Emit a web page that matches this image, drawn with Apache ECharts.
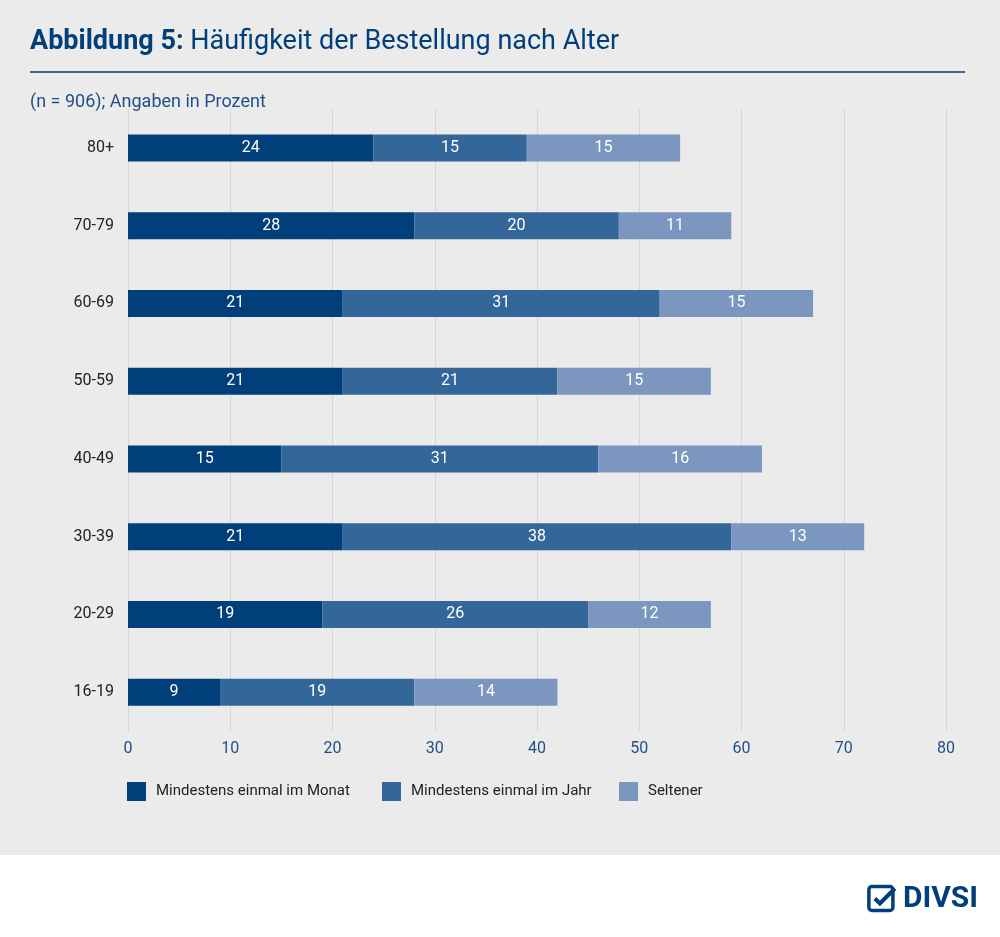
<!DOCTYPE html>
<html><head><meta charset="utf-8">
<script src="https://cdn.jsdelivr.net/npm/echarts@6/dist/echarts.min.js"></script>
<style>html,body{margin:0;padding:0;background:#fff}#c{width:1000px;height:937px}</style>
</head><body><div id="c"></div>
<script>
const categories = ['16-19','20-29','30-39','40-49','50-59','60-69','70-79','80+'];
const monat = [9,19,21,15,21,21,28,24];
const jahr = [19,26,38,31,21,31,20,15];
const seltener = [14,12,13,16,15,15,11,15];
const xTicks = [0,10,20,30,40,50,60,70,80];
const names = ['Mindestens einmal im Monat','Mindestens einmal im Jahr','Seltener'];
const colors = ['#003f7a','#336699','#7b96bf'];
const font = 'Roboto';
const chart = echarts.init(document.getElementById('c'));
const mk = (name, data, color) => ({
  name, type:'bar', stack:'a', data, barWidth:27, itemStyle:{color},
  label:{show:true, position:'inside', color:'#fff', fontSize:16, fontFamily:font}
});
const leg = (i, left) => ({left, top:777, itemWidth:19, itemHeight:19, icon:'rect', itemGap:10,
    textStyle:{fontSize:15, color:'#222', fontFamily:font, padding:[0,0,0,5]}, data:[names[i]]});
chart.setOption({
  backgroundColor:'#fff',
  textStyle:{fontFamily:font},
  graphic:[
    {type:'rect', shape:{x:0,y:0,width:1000,height:855}, style:{fill:'#ebebeb'}, z:-10},
    {type:'text', left:30, top:29, style:{text:'{b|Abbildung 5:} Häufigkeit der Bestellung nach Alter', fill:'#003f7a', font:'27px Roboto', rich:{b:{fontWeight:'bold', fontSize:27, fill:'#003f7a', fontFamily:font}}}},
    {type:'line', shape:{x1:30,y1:72,x2:965,y2:72}, style:{stroke:'#003f7a', lineWidth:1.5}},
    {type:'text', left:30, top:93, style:{text:'(n = 906); Angaben in Prozent', fill:'#1f4f8a', font:'18px Roboto'}},
    {type:'group', right:22, top:884, children:[
      {type:'rect', shape:{x:0,y:2,width:24,height:24,r:3}, style:{fill:'none', stroke:'#003f7a', lineWidth:3.5}},
      {type:'polyline', shape:{points:[[6,14],[11,19],[26,4]]}, style:{fill:'none', stroke:'#003f7a', lineWidth:4}},
      {type:'text', x:34, y:0, style:{text:'DIVSI', fill:'#003f7a', font:'bold 30px Roboto'}}
    ]}
  ],
  grid:{left:128, right:54, top:109, bottom:206},
  legend:[leg(0,122), leg(1,377), leg(2,614)],
  xAxis:{type:'value', min:0, max:80, interval:10,
    axisLabel:{color:'#1f4f8a', fontSize:16, margin:10},
    axisLine:{show:false}, axisTick:{show:false},
    splitLine:{lineStyle:{color:'#d6d6d6'}}},
  yAxis:{type:'category', data:categories,
    axisLabel:{color:'#222', fontSize:16, margin:14},
    axisLine:{lineStyle:{color:'#d6d6d6'}}, axisTick:{show:false}},
  series:[mk(names[0],monat,colors[0]), mk(names[1],jahr,colors[1]), mk(names[2],seltener,colors[2])]
});
</script></body></html>
